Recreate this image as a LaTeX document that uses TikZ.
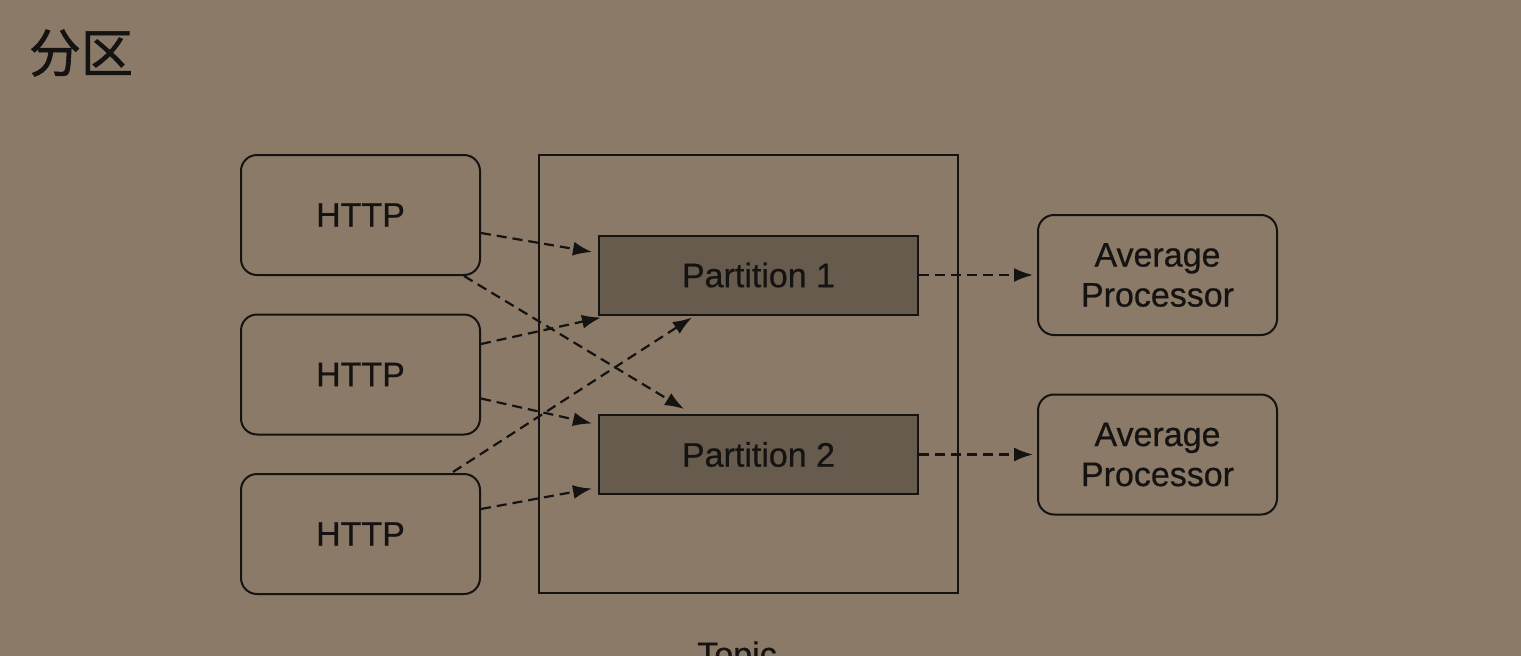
\documentclass[tikz,border=0pt]{standalone}
\usepackage{fontspec}
\setmainfont{Liberation Sans}[FakeBold=0.6]
\newfontfamily\cjk[FakeBold=1.2]{Noto Sans CJK SC}
\usetikzlibrary{arrows.meta,calc}
\definecolor{bg}{HTML}{8A7A67}
\definecolor{pfill}{HTML}{675B4E}
\definecolor{ink}{HTML}{141312}
\tikzset{
  httpbox/.style={draw=ink, line width=2pt, rounded corners=16pt, minimum width=239pt, minimum height=120pt, inner sep=0pt, text=ink, align=center},
  partbox/.style={draw=ink, fill=pfill, line width=2pt, minimum width=319pt, minimum height=79pt, inner sep=0pt, text=ink},
  topicbox/.style={draw=ink, line width=2pt, minimum width=419pt, minimum height=438pt, inner sep=0pt},
  flow/.style={draw=ink, dash pattern=on 10pt off 6pt, line width=2.2pt, -{Latex[length=19pt,width=14pt]}}
}
\begin{document}
\begin{tikzpicture}[x=1pt, y=-1pt, font=\fontsize{34}{40}\selectfont]
\useasboundingbox (0,0) rectangle (1521,656);
\clip (0,0) rectangle (1521,656);
\fill[bg] (0,0) rectangle (1521,656);

\node[text=ink] (title) at (81,53) {\cjk\fontsize{52}{52}\selectfont 分区};

\node[topicbox] (topic) at (748.5,374) {};
\node[anchor=base, text=ink] (topiclbl) at (737,666) {Topic};

\node[httpbox] (h1) at (360.5,215) {HTTP};
\node[httpbox] (h2) at (360.5,374.5) {HTTP};
\node[httpbox] (h3) at (360.5,534) {HTTP};

\node[partbox] (p1) at (758.5,275) {Partition 1};
\node[partbox] (p2) at (758.5,454.5) {Partition 2};

\node[httpbox] (a1) at (1157.5,275) {Average\\Processor};
\node[httpbox] (a2) at (1157.5,454.5) {Average\\Processor};

\draw[flow] ($(h1.east)+(0,18)$) -- ($(p1.west)+(-6,-23)$);
\draw[flow] ($(h1.south east)+(-17,0)$) -- ($(p2.north west)+(86,-5)$);
\draw[flow] ($(h2.east)+(0,-30.5)$) -- ($(p1.south west)+(3,2)$);
\draw[flow] ($(h2.east)+(0,24)$) -- ($(p2.west)+(-6,-31)$);
\draw[flow] ($(h3.north east)+(-28,-1)$) -- ($(p1.south west)+(94,2)$);
\draw[flow] ($(h3.east)+(0,-25)$) -- ($(p2.west)+(-6,34)$);
\draw[flow] (p1.east) -- ($(a1.west)+(-4,0)$);
\draw[flow] (p2.east) -- ($(a2.west)+(-4,0)$);
\end{tikzpicture}
\end{document}
